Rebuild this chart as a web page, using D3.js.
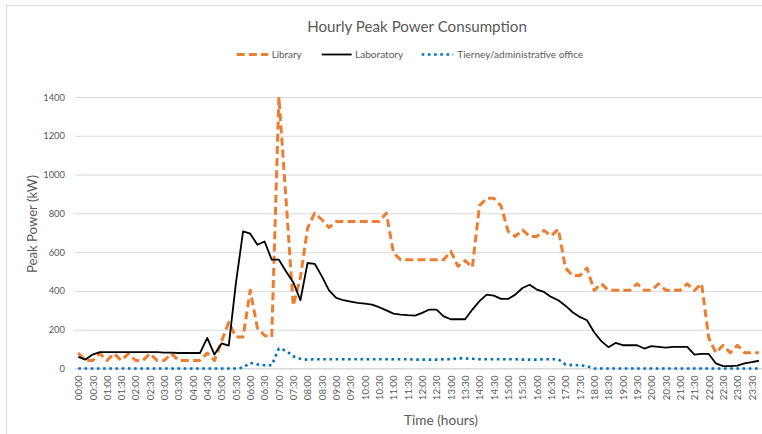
<!DOCTYPE html>
<html><head><meta charset="utf-8">
<script src="https://cdn.jsdelivr.net/npm/d3@7"></script>
<style>html,body{margin:0;padding:0;background:#fff;}svg{display:block;font-family:Lato,"Open Sans",sans-serif;}</style>
</head><body><svg id="c" width="762" height="434"></svg>
<script>
const categories = ["00:00","00:15","00:30","00:45","01:00","01:15","01:30","01:45","02:00","02:15","02:30","02:45","03:00","03:15","03:30","03:45","04:00","04:15","04:30","04:45","05:00","05:15","05:30","05:45","06:00","06:15","06:30","06:45","07:00","07:15","07:30","07:45","08:00","08:15","08:30","08:45","09:00","09:15","09:30","09:45","10:00","10:15","10:30","10:45","11:00","11:15","11:30","11:45","12:00","12:15","12:30","12:45","13:00","13:15","13:30","13:45","14:00","14:15","14:30","14:45","15:00","15:15","15:30","15:45","16:00","16:15","16:30","16:45","17:00","17:15","17:30","17:45","18:00","18:15","18:30","18:45","19:00","19:15","19:30","19:45","20:00","20:15","20:30","20:45","21:00","21:15","21:30","21:45","22:00","22:15","22:30","22:45","23:00","23:15","23:30","23:45"];
const tickLabels = ["00:00","00:30","01:00","01:30","02:00","02:30","03:00","03:30","04:00","04:30","05:00","05:30","06:00","06:30","07:00","07:30","08:00","08:30","09:00","09:30","10:00","10:30","11:00","11:30","12:00","12:30","13:00","13:30","14:00","14:30","15:00","15:30","16:00","16:30","17:00","17:30","18:00","18:30","19:00","19:30","20:00","20:30","21:00","21:30","22:00","22:30","23:00","23:30"];
const library = [80,41,41,77,41,77,41,77,41,41,77,41,41,77,41,41,41,41,80,41,141,238,163,163,403,209,170,163,1400,870,324,470,724,801,767,727,758,758,758,758,758,758,758,801,595,561,561,561,561,561,561,561,604,527,556,522,840,878,878,839,707,681,715,681,681,712,684,719,518,479,479,518,403,437,403,403,403,403,437,403,403,437,403,403,403,437,403,437,158,81,120,81,120,81,81,81];
const laboratory = [60,46,72,84,84,84,84,84,84,84,84,84,82,82,80,80,80,80,158,72,129,118,440,707,695,638,655,561,561,500,445,352,544,540,475,403,364,352,345,338,335,329,316,300,283,278,275,273,287,304,304,269,254,254,254,304,347,381,376,359,359,381,415,432,407,395,369,352,324,290,266,249,187,141,110,132,120,120,120,103,115,112,108,112,112,112,72,75,75,26,12,12,15,26,33,40];
const tierney = [0,0,0,0,0,0,0,0,0,0,0,0,0,0,0,0,0,0,0,0,0,0,0,5,29,21,17,17,103,92,63,50,45,48,48,48,48,48,48,48,48,48,48,48,48,48,48,46,46,46,46,48,48,52,52,50,48,48,48,48,48,48,46,46,46,48,48,48,21,17,17,12,0,0,0,0,0,0,0,0,0,0,0,0,0,0,0,0,0,0,0,0,0,0,0,0];
const yTicks = [0,200,400,600,800,1000,1200,1400];
const seriesNames = ["Library","Laboratory","Tierney/administrative office"];

const svg = d3.select("#c");
const gray = "#595959";
// chart border
svg.append("rect").attr("x",6.5).attr("y",5.5).attr("width",820).attr("height",520)
  .attr("fill","none").attr("stroke","#d9d9d9");

const x = d3.scalePoint().domain(categories).range([78.3, 758.9]);
const y = d3.scaleLinear().domain([0,1400]).range([368.5, 97]);
const plotL = 74.7, plotR = 762.5;

function fit(sel, target){
  const w = sel.node().getComputedTextLength();
  const fs = parseFloat(sel.attr("font-size"));
  sel.attr("font-size", fs*target/w);
}

// gridlines
const yAxis = d3.axisLeft(y).tickValues(yTicks).tickFormat(d3.format("d")).tickSize(-(plotR-plotL)).tickPadding(10);
const gy = svg.append("g").attr("transform",`translate(${plotL},0)`).call(yAxis);
gy.select(".domain").remove();
gy.selectAll(".tick line").attr("stroke","#d9d9d9").attr("stroke-width",1);
gy.selectAll(".tick text").attr("fill",gray).attr("font-size",9.4).attr("font-family","Lato").attr("x",-9.7);

// x axis
const xAxis = d3.axisBottom(x).tickValues(tickLabels).tickSize(0).tickPadding(0);
const gx = svg.append("g").attr("transform",`translate(0,${y(0)})`).call(xAxis);
gx.select(".domain").attr("d",`M${plotL},0H${plotR}`).attr("stroke","#d9d9d9");
gx.selectAll(".tick text").attr("fill",gray).attr("font-size",9.6).attr("font-family","Lato")
  .attr("text-anchor","end").attr("transform","rotate(-90)").attr("x",-7).attr("y",0).attr("dy","0.35em");

// lines
const series = [
  {name:seriesNames[0], values:library, color:"#ED7D31", width:3, dash:"8,4.2", cap:"butt"},
  {name:seriesNames[1], values:laboratory, color:"#000000", width:1.8, dash:null, cap:"butt"},
  {name:seriesNames[2], values:tierney, color:"#0070C0", width:2.6, dash:"2.6,3.6", cap:"butt"}
];
const line = d3.line().x((d,i)=>x(categories[i])).y(d=>y(d));
[series[2], series[0], series[1]].forEach(s=>{
  svg.append("path").datum(s.values).attr("d",line).attr("fill","none")
    .attr("stroke",s.color).attr("stroke-width",s.width).attr("stroke-linejoin","round")
    .attr("stroke-linecap",s.cap).attr("stroke-dasharray",s.dash);
});

// title
const t = svg.append("text").attr("x",417).attr("y",31.5).attr("text-anchor","middle")
  .attr("fill",gray).attr("font-size",16).text("Hourly Peak Power Consumption");
fit(t,220);

// legend
const leg = [
  {s:series[0], x0:236.7, x1:268.3, tx:271.7, tw:30},
  {s:series[1], x0:321.7, x1:351.7, tx:355, tw:48.3},
  {s:series[2], x0:421.7, x1:453.3, tx:457.3, tw:126}
];
leg.forEach(l=>{
  svg.append("line").attr("x1",l.x0).attr("x2",l.x1).attr("y1",54.5).attr("y2",54.5)
    .attr("stroke",l.s.color).attr("stroke-width",l.s.width).attr("stroke-dasharray",l.s.dash);
  const tt = svg.append("text").attr("x",l.tx).attr("y",54.5).attr("dy","0.35em")
    .attr("fill",gray).attr("font-size",10).text(l.s.name);
  fit(tt,l.tw);
});

// axis titles
const yt = svg.append("text").attr("transform","translate(32,224) rotate(-90)").attr("text-anchor","middle")
  .attr("dy","0.35em").attr("fill",gray).attr("font-size",12).text("Peak Power (kW)");
fit(yt,98);
const xt = svg.append("text").attr("x",441).attr("y",420).attr("dy","0.35em").attr("text-anchor","middle")
  .attr("fill",gray).attr("font-size",12).text("Time (hours)");
fit(xt,74);
</script></body></html>
